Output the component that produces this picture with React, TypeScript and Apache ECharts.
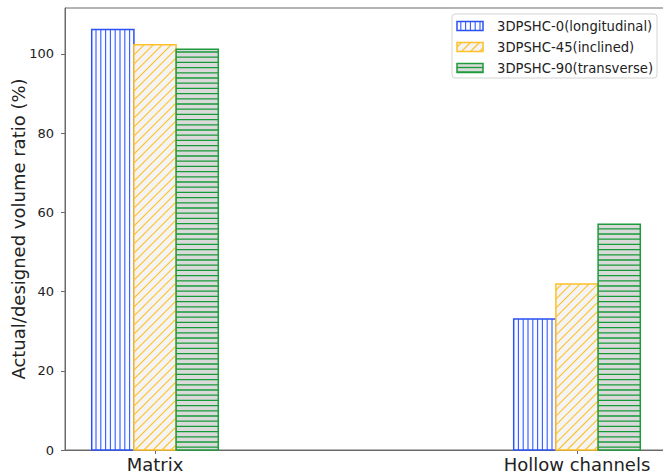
import React, { useEffect, useRef } from "react";
import * as echarts from "echarts";

const categories = ["Matrix", "Hollow channels"];
const seriesNames = ["3DPSHC-0(longitudinal)", "3DPSHC-45(inclined)", "3DPSHC-90(transverse)"];
const longitudinal = [106.2, 33.1];
const inclined = [102.3, 41.9];
const transverse = [101.2, 57.0];
const yTicks = [0, 20, 40, 60, 80, 100];

const FONT = "DejaVu Sans";
const barW = 0.1;
const offsets = [-0.1, 0, 0.1];
const styles = [
  { edge: "#2a52f2", face: "#fbfbff", line: "#2f5cff", kind: "v", spacing: 4.8, lw: 1.1 },
  { edge: "#ffc02a", face: "#f4f4f4", line: "#ffbf2a", kind: "d", spacing: 9, lw: 1.1 },
  { edge: "#1f9a3c", face: "#dadada", line: "#179a38", kind: "h", spacing: 5.2, lw: 1.3 },
];

function hatchLines(kind: string, x0: number, y0: number, w: number, h: number, color: string, s: number, lw: number) {
  const out: any[] = [];
  const ls = { stroke: color, lineWidth: lw };
  if (kind === "v") {
    for (let x = Math.ceil(x0 / s) * s; x < x0 + w; x += s) {
      out.push({ type: "line", shape: { x1: x, y1: y0, x2: x, y2: y0 + h }, style: ls });
    }
  } else if (kind === "h") {
    for (let y = Math.ceil(y0 / s) * s; y < y0 + h; y += s) {
      out.push({ type: "line", shape: { x1: x0, y1: y, x2: x0 + w, y2: y }, style: ls });
    }
  } else {
    const cmin = x0 + y0;
    const cmax = x0 + w + y0 + h;
    for (let c = Math.ceil(cmin / s) * s; c < cmax; c += s) {
      const xa = Math.max(x0, c - (y0 + h));
      const xb = Math.min(x0 + w, c - y0);
      if (xb > xa) {
        out.push({ type: "line", shape: { x1: xa, y1: c - xa, x2: xb, y2: c - xb }, style: ls });
      }
    }
  }
  return out;
}

function makeRender(idx: number) {
  const st = styles[idx];
  return (params: any, api: any) => {
    const xc = api.value(0) + offsets[idx];
    const v = api.value(1);
    const p0 = api.coord([xc - barW / 2, v]);
    const p1 = api.coord([xc + barW / 2, 0]);
    const x0 = p0[0];
    const y0 = p0[1];
    const w = p1[0] - p0[0];
    const h = p1[1] - p0[1];
    const children: any[] = [];
    children.push({ type: "rect", shape: { x: x0, y: y0, width: w, height: h }, style: { fill: st.face } });
    children.push(...hatchLines(st.kind, x0, y0, w, h, st.line, st.spacing, st.lw));
    children.push({
      type: "rect",
      shape: { x: x0, y: y0, width: w, height: h },
      style: { fill: "none", stroke: st.edge, lineWidth: 1.5 },
    });
    return { type: "group", children };
  };
}

function legendGraphic() {
  const elems: any[] = [];
  elems.push({
    type: "rect",
    shape: { x: 452, y: 14, width: 205, height: 64, r: 3 },
    style: { fill: "rgba(255,255,255,0.85)", stroke: "#d3d3d3", lineWidth: 1 },
  });
  seriesNames.forEach((name, i) => {
    const cy = 26 + i * 21;
    const st = styles[i];
    const ix = 457, iw = 26, ih = 9, iy = cy - ih / 2;
    elems.push({ type: "rect", shape: { x: ix, y: iy, width: iw, height: ih }, style: { fill: st.face } });
    hatchLines(st.kind, ix, iy, iw, ih, st.line, st.kind === "h" ? 4.5 : st.spacing, st.lw).forEach((l) => elems.push(l));
    elems.push({
      type: "rect",
      shape: { x: ix, y: iy, width: iw, height: ih },
      style: { fill: "none", stroke: st.edge, lineWidth: 1.5 },
    });
    elems.push({
      type: "text",
      x: 497,
      y: cy,
      style: {
        text: name,
        fontSize: 13.2,
        fontFamily: FONT,
        fill: "#222",
        align: "left",
        verticalAlign: "middle",
        textAlign: "left",
        textVerticalAlign: "middle",
      },
    });
  });
  return elems;
}

export default function App() {
  const ref = useRef<HTMLDivElement>(null);
  useEffect(() => {
    if (!ref.current) return;
    const chart = echarts.init(ref.current, undefined, { renderer: "svg" });
    const values = [longitudinal, inclined, transverse];
    chart.setOption({
      animation: false,
      backgroundColor: "#ffffff",
      textStyle: { fontFamily: FONT },
      grid: {
        left: 65,
        top: 8,
        width: 608,
        height: 442,
        show: true,
        borderColor: "#6a6a6a",
        borderWidth: 1,
        containLabel: false,
        outerBoundsMode: "none",
      },
      xAxis: {
        type: "value",
        min: -0.2133,
        max: 1.2275,
        splitLine: { show: false },
        axisLine: { show: true, onZero: false, lineStyle: { color: "#6a6a6a" } },
        axisTick: { show: true, length: 4, customValues: [0, 1], lineStyle: { color: "#6a6a6a" } },
        axisLabel: {
          customValues: [0, 1],
          formatter: (v: number) => categories[Math.round(v)] ?? "",
          fontSize: 18,
          margin: 5,
          color: "#222",
          fontFamily: FONT,
          hideOverlap: false,
        },
      },
      yAxis: {
        type: "value",
        min: 0,
        max: 111.6,
        name: "Actual/designed volume ratio (%)",
        nameLocation: "middle",
        nameGap: 38,
        nameRotate: 90,
        nameMoveOverlap: false,
        nameTextStyle: { fontSize: 18, color: "#222", fontFamily: FONT },
        splitLine: { show: false },
        axisLine: { show: true, onZero: false, lineStyle: { color: "#6a6a6a" } },
        axisTick: { show: true, length: 4, customValues: yTicks, lineStyle: { color: "#6a6a6a" } },
        axisLabel: { customValues: yTicks, fontSize: 13, margin: 11, color: "#222", fontFamily: FONT },
      },
      series: values.map((vals, idx) => ({
        type: "custom",
        name: seriesNames[idx],
        renderItem: makeRender(idx),
        data: categories.map((c, i) => [i, vals[i]]),
      })),
      graphic: legendGraphic(),
    });
    return () => chart.dispose();
  }, []);
  return (
    <div
      ref={ref}
      style={{ position: "fixed", left: 0, top: 0, width: 663, height: 474, background: "#fff" }}
    />
  );
}
